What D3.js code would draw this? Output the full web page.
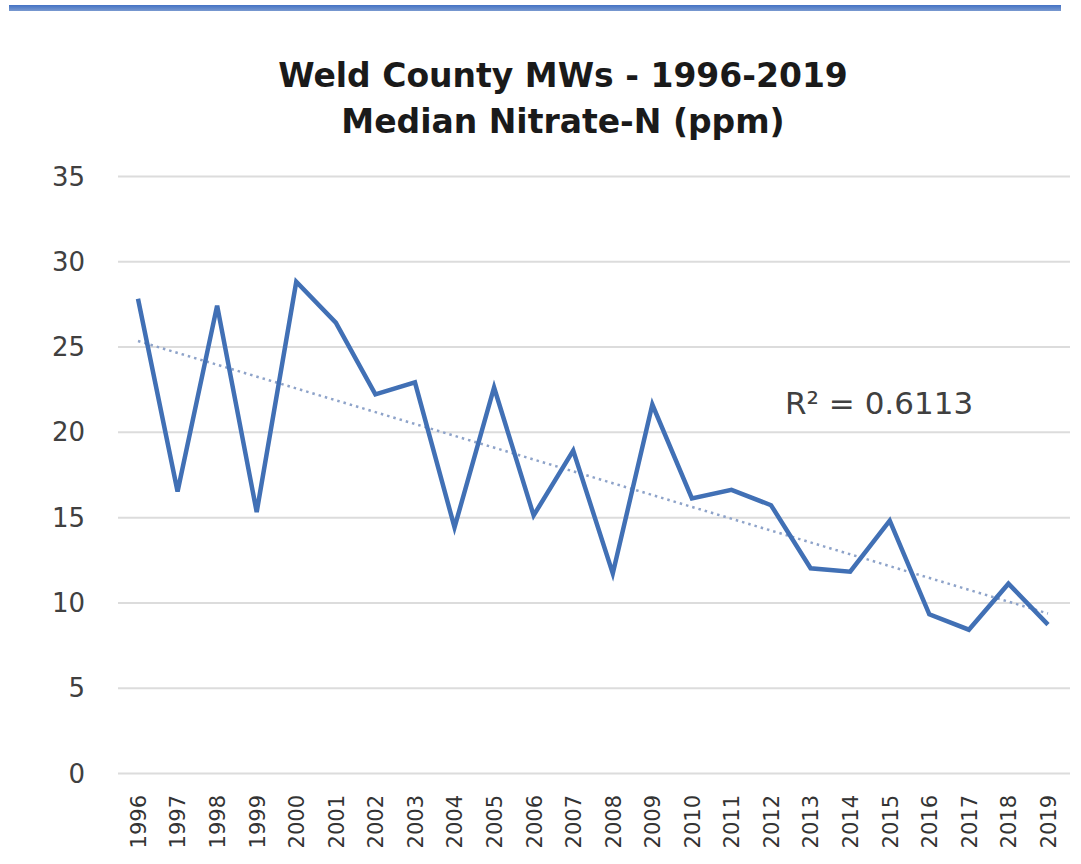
<!DOCTYPE html>
<html><head><meta charset="utf-8">
<script src="https://cdn.jsdelivr.net/npm/d3@7"></script>
<style>body{margin:0;background:#fff}svg{display:block}</style>
</head><body>
<script>
const years = ["1996","1997","1998","1999","2000","2001","2002","2003","2004","2005","2006","2007","2008","2009","2010","2011","2012","2013","2014","2015","2016","2017","2018","2019"];
const nitrate = [27.8,16.5,27.4,15.3,28.8,26.4,22.2,22.9,14.4,22.6,15.1,18.9,11.7,21.6,16.1,16.6,15.7,12.0,11.8,14.8,9.3,8.4,11.1,8.7];
const yTicks = [0,5,10,15,20,25,30,35];
const titleLines = ["Weld County MWs - 1996-2019","Median Nitrate-N (ppm)"];
const r2Label = "R² = 0.6113";

const W=1081,H=864;
const svg=d3.select("body").append("svg").attr("width",W).attr("height",H);
const defs=svg.append("defs");
const g1=defs.append("linearGradient").attr("id","bar").attr("x1",0).attr("y1",0).attr("x2",0).attr("y2",1);
g1.append("stop").attr("offset","0%").attr("stop-color","#4472c4");
g1.append("stop").attr("offset","100%").attr("stop-color","#7a9ad0");
svg.append("rect").attr("x",9).attr("y",5).attr("width",1052).attr("height",6).attr("fill","url(#bar)");

const x=d3.scalePoint().domain(years).range([138,1048]);
const y=d3.scaleLinear().domain([0,35]).range([773,176]);

svg.append("g").selectAll("text").data(titleLines).join("text")
 .attr("x",563).attr("y",(d,i)=>87+i*46).attr("text-anchor","middle")
 .attr("font-family","DejaVu Sans").attr("font-weight","bold").attr("font-size",33)
 .attr("fill","#1a1a1a").text(d=>d);

const yAxis=d3.axisLeft(y).tickValues(yTicks).tickSize(-(1070-118)).tickPadding(0);
const ga=svg.append("g").attr("transform","translate(118,0)").call(yAxis);
ga.select(".domain").remove();
ga.selectAll("line").attr("stroke","#dcdcdc").attr("stroke-width",2);
ga.selectAll("text").attr("x",-33).attr("font-family","DejaVu Sans").attr("font-size",26).attr("fill","#404040").attr("dy","0.35em");

const xAxis=d3.axisBottom(x).tickSize(0).tickPadding(0);
const gx=svg.append("g").attr("transform","translate(0,773)").call(xAxis);
gx.select(".domain").remove();
gx.selectAll("text").attr("transform","rotate(-90)").attr("text-anchor","end")
 .attr("x",-22).attr("y",0).attr("dy","0.35em")
 .attr("font-family","DejaVu Sans").attr("font-size",21).attr("fill","#333333");

// linear trend
const n=years.length, xs=d3.range(n);
const mx=d3.mean(xs), my=d3.mean(nitrate);
const slope=d3.sum(xs,(v,i)=>(v-mx)*(nitrate[i]-my))/d3.sum(xs,v=>(v-mx)*(v-mx));
const icpt=my-slope*mx;
svg.append("line").attr("x1",x(years[0])).attr("y1",y(icpt)).attr("x2",x(years[n-1])).attr("y2",y(icpt+slope*(n-1)))
 .attr("stroke","#8ea3c9").attr("stroke-width",2.5).attr("stroke-dasharray","2.5,4");

const line=d3.line().x((d,i)=>x(years[i])).y(d=>y(d));
svg.append("path").datum(nitrate).attr("d",line).attr("fill","none")
 .attr("stroke","#4170b5").attr("stroke-width",4.5).attr("stroke-linejoin","miter");

svg.append("text").attr("x",785).attr("y",414).attr("font-family","DejaVu Sans").attr("font-size",31).attr("fill","#404040").text(r2Label);
</script>
</body></html>
